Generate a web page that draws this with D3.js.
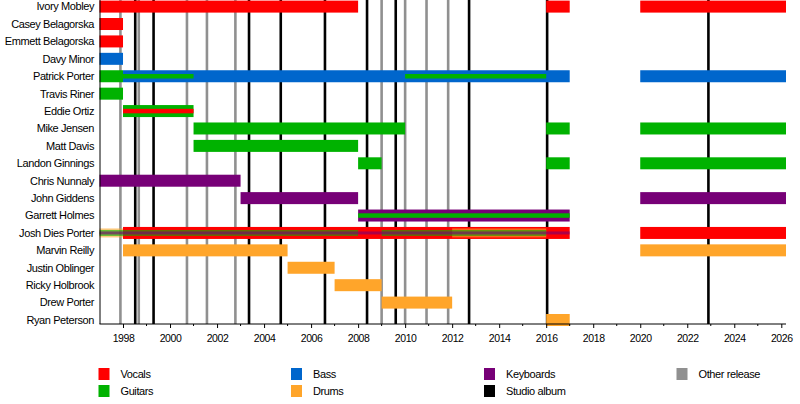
<!DOCTYPE html>
<html>
<head>
<meta charset="utf-8">
<script src="https://cdn.jsdelivr.net/npm/d3@7"></script>
<style>
  body { margin: 0; background: #fff; }
  text { font-family: "Liberation Sans", Arial, sans-serif; fill: #000; }
</style>
</head>
<body>
<div id="timeline"></div>
<script>
const END = 2026.2;

const members = ["Ivory Mobley", "Casey Belagorska", "Emmett Belagorska", "Davy Minor",
  "Patrick Porter", "Travis Riner", "Eddie Ortiz", "Mike Jensen", "Matt Davis",
  "Landon Ginnings", "Chris Nunnaly", "John Giddens", "Garrett Holmes",
  "Josh Dies Porter", "Marvin Reilly", "Justin Oblinger", "Ricky Holbrook",
  "Drew Porter", "Ryan Peterson"];

const roles = ["Vocals", "Guitars", "Bass", "Drums", "Keyboards"];
const roleColors = ["#ff0000", "#00b200", "#0066cc", "#ffa52a", "#770077"];

// [member, role, from, till, layer]  layer 0 = main role, higher = inner stripe
const spans = [
  ["Ivory Mobley", "Vocals", 1997, 2008, 0],
  ["Ivory Mobley", "Vocals", 2016, 2017, 0],
  ["Ivory Mobley", "Vocals", 2020, END, 0],
  ["Casey Belagorska", "Vocals", 1997, 1998, 0],
  ["Emmett Belagorska", "Vocals", 1997, 1998, 0],
  ["Davy Minor", "Bass", 1997, 1998, 0],
  ["Patrick Porter", "Guitars", 1997, 1998, 0],
  ["Patrick Porter", "Bass", 1998, 2017, 0],
  ["Patrick Porter", "Guitars", 1998, 2001, 1],
  ["Patrick Porter", "Guitars", 2010, 2016, 1],
  ["Patrick Porter", "Bass", 2020, END, 0],
  ["Travis Riner", "Guitars", 1997, 1998, 0],
  ["Eddie Ortiz", "Guitars", 1998, 2001, 0],
  ["Eddie Ortiz", "Vocals", 1998, 2001, 1],
  ["Mike Jensen", "Guitars", 2001, 2010, 0],
  ["Mike Jensen", "Guitars", 2016, 2017, 0],
  ["Mike Jensen", "Guitars", 2020, END, 0],
  ["Matt Davis", "Guitars", 2001, 2008, 0],
  ["Landon Ginnings", "Guitars", 2008, 2009, 0],
  ["Landon Ginnings", "Guitars", 2016, 2017, 0],
  ["Landon Ginnings", "Guitars", 2020, END, 0],
  ["Chris Nunnaly", "Keyboards", 1997, 2003, 0],
  ["John Giddens", "Keyboards", 2003, 2008, 0],
  ["John Giddens", "Keyboards", 2020, END, 0],
  ["Garrett Holmes", "Keyboards", 2008, 2017, 0],
  ["Garrett Holmes", "Guitars", 2008, 2017, 1],
  ["Josh Dies Porter", "Vocals", 1998, 2017, 0],
  ["Josh Dies Porter", "Vocals", 2020, END, 0],
  ["Josh Dies Porter", "Drums", 1997, 1998, 1],
  ["Josh Dies Porter", "Drums", 2012, 2016, 1],
  ["Josh Dies Porter", "Guitars", 1997, 2008, 2],
  ["Josh Dies Porter", "Guitars", 2009, 2016, 2],
  ["Josh Dies Porter", "Keyboards", 1997, 2017, 3],
  ["Marvin Reilly", "Drums", 1998, 2005, 0],
  ["Marvin Reilly", "Drums", 2020, END, 0],
  ["Justin Oblinger", "Drums", 2005, 2007, 0],
  ["Ricky Holbrook", "Drums", 2007, 2009, 0],
  ["Drew Porter", "Drums", 2009, 2012, 0],
  ["Ryan Peterson", "Drums", 2016, 2017, 0]
];

const studioAlbums = [1998.52, 1999.3, 2003.36, 2004.71, 2006.59, 2008.38, 2009.6, 2012.72, 2016.04, 2022.9];
const otherReleases = [1997.89, 1998.67, 2000.72, 2001.57, 2002.78, 2009.0, 2010.0, 2010.91, 2011.83];

const tickYears = d3.range(1998, 2027, 2);
const legendItems = ["Vocals", "Guitars", "Bass", "Drums", "Keyboards", "Studio album", "Other release"];

const W = 800, H = 404;
const plot = {left: 99.5, right: 786, top: 0, bottom: 324};

const svg = d3.select("#timeline").append("svg")
  .attr("width", W).attr("height", H);

const x = d3.scaleLinear().domain([1997, END]).range([plot.left, plot.right]);
const y = d3.scalePoint().domain(members).range([6.6, 320]);
const color = d3.scaleOrdinal().domain(roles).range(roleColors);

// release markers behind the bars
svg.append("g").selectAll("line.other")
  .data(otherReleases).enter().append("line")
    .attr("x1", d => x(d)).attr("x2", d => x(d))
    .attr("y1", plot.top).attr("y2", plot.bottom)
    .attr("stroke", "#909090").attr("stroke-width", 2.6);

svg.append("g").selectAll("line.album")
  .data(studioAlbums).enter().append("line")
    .attr("x1", d => x(d)).attr("x2", d => x(d))
    .attr("y1", plot.top).attr("y2", plot.bottom)
    .attr("stroke", "#000").attr("stroke-width", 2.6);

// bar thickness depends on how many stripes a member row has
const maxLayer = d3.rollup(spans, v => d3.max(v, d => d[4]), d => d[0]);
function thickness(d) {
  if (d[4] === 0) return 12;
  if (maxLayer.get(d[0]) === 1) return 4.5;
  return 12 - 3 * d[4];
}

svg.append("g").selectAll("rect")
  .data(spans.slice().sort((a, b) => a[4] - b[4]))
  .enter().append("rect")
    .attr("x", d => x(d[2]))
    .attr("width", d => x(d[3]) - x(d[2]))
    .attr("y", d => y(d[0]) - thickness(d) / 2)
    .attr("height", d => thickness(d))
    .attr("fill", d => color(d[1]))
    .attr("fill-opacity", d => maxLayer.get(d[0]) > 1 && d[4] > 0 ? 0.6 : 1);

// member names
svg.append("g").selectAll("text")
  .data(members).enter().append("text")
    .attr("x", 94).attr("y", d => y(d))
    .attr("dy", "0.35em")
    .attr("text-anchor", "end")
    .style("font-size", "11px")
    .style("letter-spacing", "-0.4px")
    .text(d => d);

// axes
svg.append("line")
  .attr("x1", 100).attr("x2", 100)
  .attr("y1", plot.top).attr("y2", plot.bottom)
  .attr("stroke", "#000").attr("stroke-width", 1);

const xAxis = svg.append("g")
  .attr("transform", `translate(0,${plot.bottom})`)
  .call(d3.axisBottom(x).tickValues(tickYears).tickFormat(d3.format("d")).tickSize(4).tickPadding(7));
xAxis.select(".domain").attr("d", `M${plot.left},0H${plot.right}`);
xAxis.selectAll("text")
  .style("font-size", "10.5px")
  .style("letter-spacing", "-0.4px")
  .attr("font-family", null);

svg.append("g")
  .attr("transform", `translate(0,${plot.bottom})`)
  .selectAll("line")
  .data(d3.range(1999, 2026, 2)).enter().append("line")
    .attr("x1", d => x(d)).attr("x2", d => x(d))
    .attr("y1", 0).attr("y2", 2)
    .attr("stroke", "#000");

// legend
const legendColors = roleColors.concat(["#000", "#909090"]);
const legendCols = [98.5, 291, 484, 676.5];
const legendPos = [[0, 0], [0, 1], [1, 0], [1, 1], [2, 0], [2, 1], [3, 0]];

const legend = svg.append("g").selectAll("g")
  .data(legendItems).enter().append("g")
    .attr("transform", (d, i) => `translate(${legendCols[legendPos[i][0]]},${368 + 17 * legendPos[i][1]})`);

legend.append("rect")
  .attr("width", 11).attr("height", 12)
  .attr("fill", (d, i) => legendColors[i]);

legend.append("text")
  .attr("x", 22).attr("y", 6).attr("dy", "0.35em")
  .style("font-size", "11px")
  .style("letter-spacing", "-0.4px")
  .text(d => d);
</script>
</body>
</html>
